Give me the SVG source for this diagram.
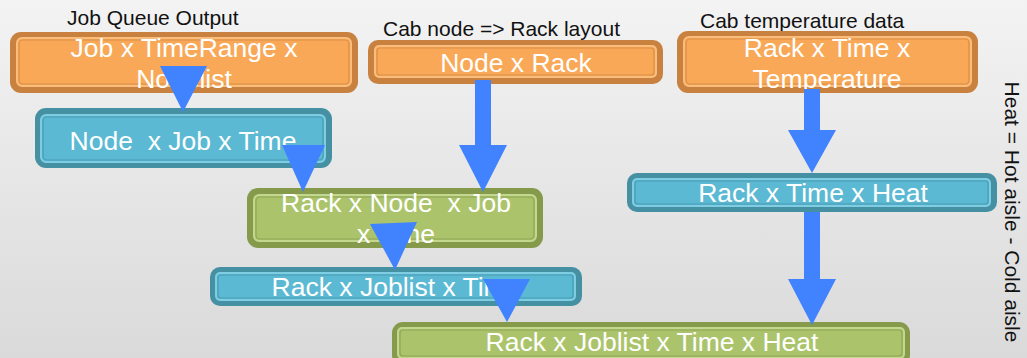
<svg xmlns="http://www.w3.org/2000/svg" width="1027" height="358" viewBox="0 0 1027 358">
  <defs>
    <linearGradient id="bg" x1="0" y1="0" x2="0" y2="1">
      <stop offset="0" stop-color="#f3f3f3"/>
      <stop offset="1" stop-color="#dadada"/>
    </linearGradient>
  </defs>
  <style>
    .lbl { font-family: "Liberation Sans", Arial, sans-serif; font-size: 21px; fill: #111; }
    .txt { font-family: "Liberation Sans", Arial, sans-serif; font-size: 26.5px; fill: #ffffff; text-anchor: middle; }
    .o .outer { fill: #c98140; }
    .o .band { fill: #f9a857; stroke: #fbbd7c; stroke-width: 2; }
    .o .line { fill: none; stroke: #d98f48; stroke-width: 1.2; }
    .c .outer { fill: #4590a3; }
    .c .band { fill: #5bb9d3; stroke: #7fcde2; stroke-width: 2; }
    .c .line { fill: none; stroke: #4a9db3; stroke-width: 1.2; }
    .g .outer { fill: #869a4c; }
    .g .band { fill: #abc46c; stroke: #c3d78e; stroke-width: 2; }
    .g .line { fill: none; stroke: #8fa554; stroke-width: 1.2; }
    .arrow { fill: #4182ff; }
  </style>

  <rect x="0" y="0" width="1027" height="358" fill="url(#bg)"/>

  <!-- captions -->
  <text class="lbl" x="67" y="25">Job Queue Output</text>
  <text class="lbl" x="383" y="36">Cab node =&gt; Rack layout</text>
  <text class="lbl" x="700" y="28">Cab temperature data</text>
  <text class="lbl" transform="translate(1005,212) rotate(90)" text-anchor="middle">Heat = Hot aisle - Cold aisle</text>

  <!-- nodes -->
  <g id="job-timerange" class="o">
    <rect class="outer" x="10" y="32" width="348" height="61" rx="11"/>
    <rect class="band" x="17" y="38" width="334" height="48" rx="5"/>
    <rect class="line" x="19" y="40" width="330" height="44" rx="4"/>
    <text class="txt" x="184" y="57">Job x TimeRange x</text>
    <text class="txt" x="184" y="88">Nodelist</text>
  </g>

  <g id="node-job-time" class="c">
    <rect class="outer" x="35" y="108" width="297" height="60" rx="11"/>
    <rect class="band" x="41" y="115" width="284" height="47" rx="5"/>
    <rect class="line" x="43" y="117" width="280" height="43" rx="4"/>
    <text class="txt" x="183" y="150" xml:space="preserve">Node  x Job x Time</text>
  </g>

  <g id="node-rack" class="o">
    <rect class="outer" x="368" y="40" width="295" height="44" rx="10"/>
    <rect class="band" x="375" y="46" width="281" height="31" rx="4"/>
    <rect class="line" x="377" y="48" width="277" height="27" rx="3"/>
    <text class="txt" x="516" y="72">Node x Rack</text>
  </g>

  <g id="rack-time-temp" class="o">
    <rect class="outer" x="677" y="31" width="301" height="62" rx="11"/>
    <rect class="band" x="684" y="37" width="287" height="49" rx="5"/>
    <rect class="line" x="686" y="39" width="283" height="45" rx="4"/>
    <text class="txt" x="827" y="57">Rack x Time x</text>
    <text class="txt" x="827" y="88">Temperature</text>
  </g>

  <g id="rack-time-heat" class="c">
    <rect class="outer" x="627" y="173" width="370" height="39" rx="10"/>
    <rect class="band" x="633" y="179" width="357" height="27" rx="4"/>
    <rect class="line" x="635" y="181" width="353" height="23" rx="3"/>
    <text class="txt" x="813" y="202">Rack x Time x Heat</text>
  </g>

  <g id="rack-node-job-time" class="g">
    <rect class="outer" x="247" y="188" width="296" height="60" rx="11"/>
    <rect class="band" x="254" y="195" width="282" height="46" rx="5"/>
    <rect class="line" x="256" y="197" width="278" height="42" rx="4"/>
    <text class="txt" x="396" y="212" xml:space="preserve">Rack x Node  x Job</text>
    <text class="txt" x="396" y="243">x Time</text>
  </g>

  <g id="rack-joblist-time" class="c">
    <rect class="outer" x="210" y="267" width="372" height="39" rx="10"/>
    <rect class="band" x="216" y="273" width="359" height="27" rx="4"/>
    <rect class="line" x="218" y="275" width="355" height="23" rx="3"/>
    <text class="txt" x="396" y="296">Rack x Joblist x Time</text>
  </g>

  <g id="rack-joblist-time-heat" class="g">
    <rect class="outer" x="392" y="322" width="518" height="44" rx="11"/>
    <rect class="band" x="398" y="328" width="506" height="30" rx="4"/>
    <rect class="line" x="400" y="330" width="502" height="26" rx="3"/>
    <text class="txt" x="652" y="351">Rack x Joblist x Time x Heat</text>
  </g>

  <!-- connectors -->
  <g id="connectors">
    <polygon class="arrow" points="160,66 207,66 183,112"/>
    <polygon class="arrow" points="282,145 325,145 303,192"/>
    <polygon class="arrow" points="475,80 491,80 491,145 507,145 483,192 459,145 475,145"/>
    <polygon class="arrow" points="370,224 417,222 395,270"/>
    <polygon class="arrow" points="483,279 530,279 507,322"/>
    <polygon class="arrow" points="804,89 820,89 820,130 836,130 812,173 788,130 804,130"/>
    <polygon class="arrow" points="804,212 820,212 820,279 836,279 812,325 788,279 804,279"/>
  </g>
</svg>
